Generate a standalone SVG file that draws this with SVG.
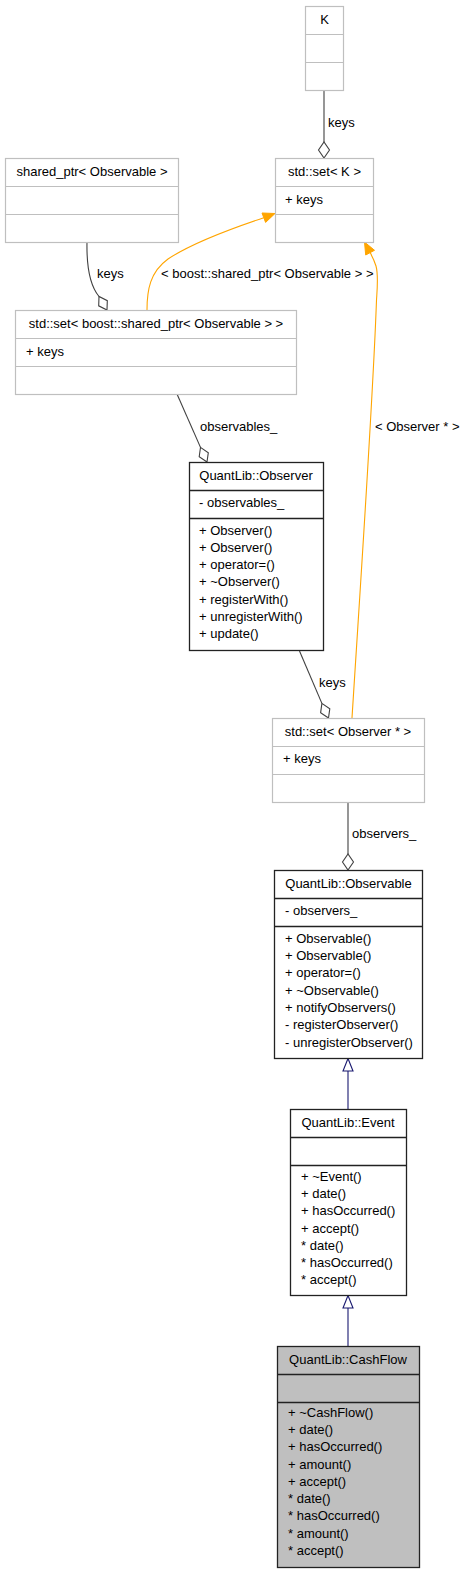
<svg xmlns="http://www.w3.org/2000/svg" width="467" height="1579" viewBox="0 0 467 1579">
<style>
text{font-family:"Liberation Sans",Arial,sans-serif;font-size:13px;fill:#000}
.c{text-anchor:middle}
.g{fill:#fff;stroke:#bfbfbf;stroke-width:1.2}
.gl{stroke:#bfbfbf;stroke-width:1.2}
.b{fill:#fff;stroke:#222;stroke-width:1.3}
.bl{stroke:#222;stroke-width:1.3}
.sel{fill:#bfbfbf;stroke:#222;stroke-width:1.3}
.use{fill:none;stroke:#404040;stroke-width:1.1}
.dia{fill:#fff;stroke:#404040;stroke-width:1.1}
.tpl{fill:none;stroke:#ffa500;stroke-width:1.1}
.tph{fill:#ffa500;stroke:#ffa500;stroke-width:1}
.inh{fill:none;stroke:#191970;stroke-width:1.1}
.inhh{fill:#fff;stroke:#191970;stroke-width:1.1}
</style>
<rect width="467" height="1579" fill="#fff"/>
<g id="connectors">
  <!-- K -> set<K> -->
  <path class="use" d="M324,90 L324,142"/>
  <polygon class="dia" points="324,158 329.5,150 324,142 318.5,150"/>
  <text x="328" y="127">keys</text>
  <!-- shared_ptr -> set<boost> -->
  <path class="use" d="M87,242 C86.5,266 89.5,285 99,296.5"/>
  <polygon class="dia" points="107,310 107.3,300.7 99,296.5 98.7,305.8"/>
  <text x="97" y="278">keys</text>
  <!-- set<boost> -> set<K> template -->
  <path class="tpl" d="M147,310 C147,290 150,272 168,259 C192,243 230,229 263.8,217.7"/>
  <polygon class="tph" points="275,213.5 262,213 265.6,222.4"/>
  <text x="161" y="278">&lt; boost::shared_ptr&lt; Observable &gt; &gt;</text>
  <!-- set<Observer*> -> set<K> template -->
  <path class="tpl" d="M352,718 C362,560 373,400 376.5,300 C377.5,285 378.5,275 376,266 C374.5,261 372.5,257 370.1,252.6"/>
  <polygon class="tph" points="364.5,242 374.5,250.3 365.7,255"/>
  <text x="375" y="431">&lt; Observer * &gt;</text>
  <!-- set<boost> -> Observer -->
  <path class="use" d="M177,394 L200.5,447.4"/>
  <polygon class="dia" points="207,462 208.3,452.7 200.5,447.4 199.2,456.7"/>
  <text x="200" y="431">observables_</text>
  <!-- Observer -> set<Observer*> -->
  <path class="use" d="M299.5,651 L321.9,703.4"/>
  <polygon class="dia" points="328.5,718 329.8,708.7 321.9,703.4 320.6,712.8"/>
  <text x="319" y="687">keys</text>
  <!-- set<Observer*> -> Observable -->
  <path class="use" d="M348,802 L348,854"/>
  <polygon class="dia" points="348,870 353.5,862 348,854 342.5,862"/>
  <text x="352" y="838">observers_</text>
  <!-- Event -> Observable -->
  <path class="inh" d="M348,1109 L348,1071"/>
  <polygon class="inhh" points="348,1058.5 353,1071 343,1071"/>
  <!-- CashFlow -> Event -->
  <path class="inh" d="M348,1346 L348,1308"/>
  <polygon class="inhh" points="348,1295.5 353,1308 343,1308"/>
</g>
<g id="node-K">
  <rect class="g" x="305.5" y="6.5" width="38" height="84"/>
  <path class="gl" d="M305.5,34.5 H343.5 M305.5,62.5 H343.5"/>
  <text class="c" x="324.5" y="24">K</text>
</g>
<g id="node-setK">
  <rect class="g" x="275.5" y="158.5" width="98" height="84"/>
  <path class="gl" d="M275.5,186.5 H373.5 M275.5,214.5 H373.5"/>
  <text class="c" x="324.5" y="176">std::set&lt; K &gt;</text>
  <text x="285" y="204">+ keys</text>
</g>
<g id="node-shared_ptr">
  <rect class="g" x="5.5" y="158.5" width="173" height="84"/>
  <path class="gl" d="M5.5,186.5 H178.5 M5.5,214.5 H178.5"/>
  <text class="c" x="92" y="176">shared_ptr&lt; Observable &gt;</text>
</g>
<g id="node-setBoost">
  <rect class="g" x="15.5" y="310.5" width="281" height="84"/>
  <path class="gl" d="M15.5,338.5 H296.5 M15.5,366.5 H296.5"/>
  <text class="c" x="156" y="327.5">std::set&lt; boost::shared_ptr&lt; Observable &gt; &gt;</text>
  <text x="26" y="355.5">+ keys</text>
</g>
<g id="node-Observer">
  <rect class="b" x="189.5" y="462.5" width="134" height="188"/>
  <path class="bl" d="M189.5,490.5 H323.5 M189.5,518.5 H323.5"/>
  <text class="c" x="256" y="479.5">QuantLib::Observer</text>
  <text x="199" y="507">- observables_</text>
  <text x="199" y="534.5">
    <tspan x="199">+ Observer()</tspan>
    <tspan x="199" dy="17.33">+ Observer()</tspan>
    <tspan x="199" dy="17.33">+ operator=()</tspan>
    <tspan x="199" dy="17.33">+ ~Observer()</tspan>
    <tspan x="199" dy="17.33">+ registerWith()</tspan>
    <tspan x="199" dy="17.33">+ unregisterWith()</tspan>
    <tspan x="199" dy="17.33">+ update()</tspan>
  </text>
</g>
<g id="node-setObserver">
  <rect class="g" x="272.5" y="718.5" width="152" height="84"/>
  <path class="gl" d="M272.5,746.5 H424.5 M272.5,774.5 H424.5"/>
  <text class="c" x="348" y="735.5">std::set&lt; Observer * &gt;</text>
  <text x="283" y="763">+ keys</text>
</g>
<g id="node-Observable">
  <rect class="b" x="274.5" y="870.5" width="148" height="188"/>
  <path class="bl" d="M274.5,898.5 H422.5 M274.5,926.5 H422.5"/>
  <text class="c" x="348.5" y="887.5">QuantLib::Observable</text>
  <text x="285" y="915">- observers_</text>
  <text x="285" y="942.7">
    <tspan x="285">+ Observable()</tspan>
    <tspan x="285" dy="17.33">+ Observable()</tspan>
    <tspan x="285" dy="17.33">+ operator=()</tspan>
    <tspan x="285" dy="17.33">+ ~Observable()</tspan>
    <tspan x="285" dy="17.33">+ notifyObservers()</tspan>
    <tspan x="285" dy="17.33">- registerObserver()</tspan>
    <tspan x="285" dy="17.33">- unregisterObserver()</tspan>
  </text>
</g>
<g id="node-Event">
  <rect class="b" x="290.5" y="1109.5" width="116" height="186"/>
  <path class="bl" d="M290.5,1137.5 H406.5 M290.5,1165.5 H406.5"/>
  <text class="c" x="348" y="1126.5">QuantLib::Event</text>
  <text x="301" y="1181">
    <tspan x="301">+ ~Event()</tspan>
    <tspan x="301" dy="17.17">+ date()</tspan>
    <tspan x="301" dy="17.17">+ hasOccurred()</tspan>
    <tspan x="301" dy="17.17">+ accept()</tspan>
    <tspan x="301" dy="17.17">* date()</tspan>
    <tspan x="301" dy="17.17">* hasOccurred()</tspan>
    <tspan x="301" dy="17.17">* accept()</tspan>
  </text>
</g>
<g id="node-CashFlow">
  <rect class="sel" x="277.5" y="1346.5" width="142" height="221"/>
  <path class="bl" d="M277.5,1374.5 H419.5 M277.5,1402.5 H419.5"/>
  <text class="c" x="348" y="1363.5">QuantLib::CashFlow</text>
  <text x="288" y="1416.7">
    <tspan x="288">+ ~CashFlow()</tspan>
    <tspan x="288" dy="17.29">+ date()</tspan>
    <tspan x="288" dy="17.29">+ hasOccurred()</tspan>
    <tspan x="288" dy="17.29">+ amount()</tspan>
    <tspan x="288" dy="17.29">+ accept()</tspan>
    <tspan x="288" dy="17.29">* date()</tspan>
    <tspan x="288" dy="17.29">* hasOccurred()</tspan>
    <tspan x="288" dy="17.29">* amount()</tspan>
    <tspan x="288" dy="17.29">* accept()</tspan>
  </text>
</g>
</svg>
